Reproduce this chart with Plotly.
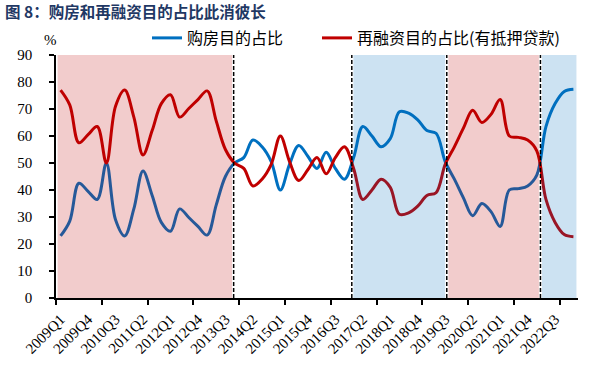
import plotly.graph_objects as go

# Categories: quarters 2009Q1 .. 2023Q1
quarters = [f"{y}Q{q}" for y in range(2009, 2024) for q in range(1, 5)][:57]

# 购房目的占比 (%)
purchase_share = [23, 28.5, 42.5, 39.5, 36.5, 50, 29, 23, 33, 47,
                  38, 28, 24.7, 33, 29.8, 26.5, 23.3, 34.5, 45, 50,
                  52, 58.5, 56, 50.5, 40, 49.5, 56.5, 52.5, 48, 54,
                  48, 44, 52, 63.5, 60, 56, 59, 69, 68.5, 66,
                  62, 61, 50.5, 44, 37, 30.5, 35, 32, 26.5, 40,
                  40.5, 41.5, 45.5, 63.5, 72, 76.5, 77.3]

# 再融资目的占比(有抵押贷款) (%)
refi_share = [77, 71.5, 57.5, 60.5, 63.5, 50, 71, 77, 67, 53,
              62, 72, 75.3, 67, 70.2, 73.5, 76.7, 65.5, 55, 50,
              48, 41.5, 44, 49.5, 60, 50.5, 43.5, 47.5, 52, 46,
              52, 56, 48, 36.5, 40, 44, 41, 31, 31.5, 34,
              38, 39, 49.5, 56, 63, 69.5, 65, 68, 73.5, 60,
              59.5, 58.5, 54.5, 36.5, 28, 23.5, 22.7]

tick_labels = quarters[::3]

# Phase boundaries (in category-index units) and phase shading kinds
phase_edges = [-0.5, 18.9, 31.8, 42.17, 52.4, 56.5]
phase_kinds = ["pink", None, "blue", "pink", "blue"]

x = list(range(len(quarters)))

fig = go.Figure()
fig.add_trace(go.Scatter(x=x, y=purchase_share, name="购房目的占比", mode="lines",
                         line=dict(color="#0070C0", width=3, shape="spline"),
                         legend="legend", showlegend=True))
fig.add_trace(go.Scatter(x=x, y=refi_share, name="再融资目的占比(有抵押贷款)", mode="lines",
                         line=dict(color="#C00000", width=3, shape="spline"),
                         legend="legend2", showlegend=True))

fills = {"pink": "rgba(190,0,0,0.2)", "blue": "rgba(0,110,190,0.2)"}
inset = 0.17
for i, kind in enumerate(phase_kinds):
    if kind:
        fig.add_shape(type="rect", xref="x", yref="y",
                      x0=phase_edges[i] + inset, x1=phase_edges[i + 1] - inset,
                      y0=0, y1=90, fillcolor=fills[kind], line_width=0, layer="above")
for e in phase_edges[1:-1]:
    fig.add_shape(type="line", xref="x", yref="y", x0=e, x1=e, y0=0, y1=90,
                  line=dict(color="black", width=1.5, dash="4px,2px"), layer="above")

serif = "Liberation Serif"
cjk = "Noto Sans CJK SC"
legend_font = dict(family=cjk, size=16, color="black")

fig.update_layout(
    width=591, height=375,
    showlegend=True,
    margin=dict(l=56, r=13, t=55, b=77, pad=0, autoexpand=False),
    paper_bgcolor="white", plot_bgcolor="white",
    title=dict(text="<b>图 8：购房和再融资目的占比此消彼长</b>",
               font=dict(family=cjk, size=15.5, color="#1F3864"),
               xref="container", yref="container", x=5 / 591, xanchor="left",
               y=1 - 13 / 375, yanchor="middle"),
    legend=dict(orientation="h", x=(147 - 56) / 522, y=1.07, xanchor="left", yanchor="middle",
                font=legend_font, bgcolor="rgba(0,0,0,0)", visible=True),
    legend2=dict(orientation="h", x=(317 - 56) / 522, y=1.07, xanchor="left", yanchor="middle",
                 font=legend_font, bgcolor="rgba(0,0,0,0)", visible=True),
    xaxis=dict(range=[-0.5, 56.5], tickmode="array", tickvals=x[::3], ticktext=tick_labels,
               tickangle=-45, ticks="", showline=True, linecolor="black", linewidth=1.5,
               showgrid=False, zeroline=False, ticklabelstandoff=5,
               tickfont=dict(family=serif, size=15, color="black"),
               minor=dict(tickmode="linear", tick0=-0.5, dtick=5, ticks="outside",
                          ticklen=5, tickwidth=1.5, tickcolor="black")),
    yaxis=dict(range=[0, 90], dtick=10, ticks="outside", ticklen=5, tickwidth=1.5,
               tickcolor="black", showline=True, linecolor="black", linewidth=1.5,
               showgrid=False, zeroline=False, ticklabelstandoff=14,
               tickfont=dict(family=serif, size=15, color="black")),
    annotations=[dict(text="%", xref="paper", yref="paper", x=(50 - 56) / 522,
                      y=(298 - 40) / 243, showarrow=False, xanchor="center", yanchor="middle",
                      font=dict(family=serif, size=15, color="black"))],
)

fig.write_html("out.html", config={"displayModeBar": False},
               post_script="document.body.style.margin='0';")
